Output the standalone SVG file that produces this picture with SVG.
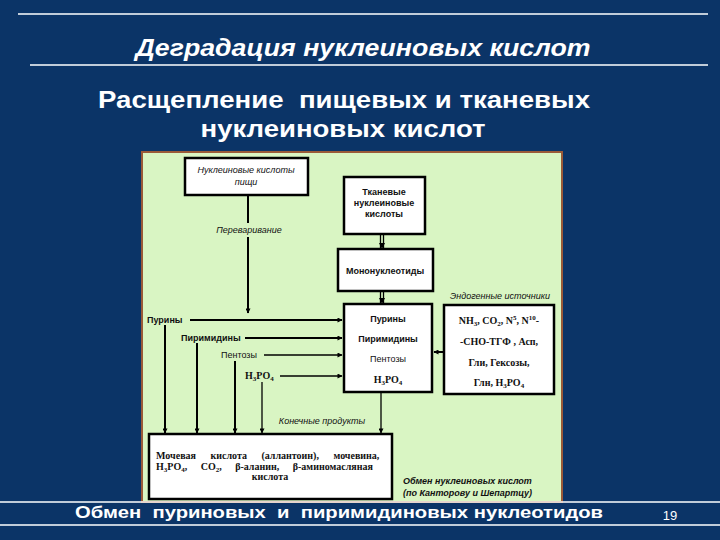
<svg xmlns="http://www.w3.org/2000/svg" width="720" height="540" viewBox="0 0 720 540">
<defs>
<marker id="ah" viewBox="0 0 10 10" refX="9" refY="5" markerWidth="7" markerHeight="5" orient="auto" markerUnits="userSpaceOnUse">
<path d="M0,0 L10,5 L0,10 z" fill="#000"/>
</marker>
</defs>
<style>
.bg{fill:#0b3467}
.wl{stroke:#ffffff;stroke-width:1.5}
.ttl{font-family:"Liberation Sans",Arial,sans-serif;font-weight:bold;fill:#ffffff}
.box{fill:#ffffff;stroke:#000;stroke-width:2.5}
.t{font-family:"Liberation Sans",Arial,sans-serif;font-size:9px;fill:#111}
.ti{font-family:"Liberation Sans",Arial,sans-serif;font-size:9px;font-style:italic;fill:#111}
.ts{font-family:"Liberation Serif","Times New Roman",serif;font-size:10px;font-weight:bold;fill:#111}
.ln{stroke:#000;stroke-width:1.3;fill:none}
.lnb{stroke:#000;stroke-width:2;fill:none}
</style>
<rect class="bg" x="0" y="0" width="720" height="540"/>
<line class="wl" x1="18" y1="14" x2="708" y2="14"/>
<line class="wl" x1="30" y1="65" x2="708" y2="65"/>
<text class="ttl" x="363" y="56" font-size="23" font-style="italic" text-anchor="middle" textLength="455" lengthAdjust="spacingAndGlyphs">Деградация нуклеиновых кислот</text>
<text class="ttl" x="344" y="108" font-size="24" text-anchor="middle" textLength="492" lengthAdjust="spacingAndGlyphs" xml:space="preserve">Расщепление  пищевых и тканевых</text>
<text class="ttl" x="343" y="137" font-size="24" text-anchor="middle" textLength="285" lengthAdjust="spacingAndGlyphs">нуклеиновых кислот</text>

<rect x="142" y="152" width="420" height="350" fill="#d9f5c3" stroke="#9a5a38" stroke-width="2"/>

<g id="food">
<rect class="box" x="185" y="158" width="123" height="37"/>
<text class="ti" x="246" y="173" text-anchor="middle">Нуклеиновые кислоты</text>
<text class="ti" x="246" y="185" text-anchor="middle">пищи</text>
</g>
<g id="tissue">
<rect class="box" x="344" y="177" width="81" height="57"/>
<text class="t" x="384" y="195" text-anchor="middle" font-weight="bold">Тканевые</text>
<text class="t" x="384" y="206" text-anchor="middle" font-weight="bold">нуклеиновые</text>
<text class="t" x="384" y="217" text-anchor="middle" font-weight="bold">кислоты</text>
</g>
<g id="mono">
<rect class="box" x="338" y="249" width="95" height="42"/>
<text class="t" x="385" y="274" text-anchor="middle" font-weight="bold">Мононуклеотиды</text>
</g>
<g id="mid">
<rect class="box" x="344" y="304" width="88" height="88"/>
<text class="t" x="388" y="322" text-anchor="middle" font-weight="bold">Пурины</text>
<text class="t" x="388" y="342" text-anchor="middle" font-weight="bold">Пиримидины</text>
<text class="t" x="388" y="362" text-anchor="middle">Пентозы</text>
<text class="ts" x="388" y="383" text-anchor="middle" font-weight="normal">H<tspan font-size="7" dy="2">3</tspan><tspan dy="-2">PO</tspan><tspan font-size="7" dy="2">4</tspan></text>
</g>
<g id="endo">
<text class="ti" x="500" y="299" text-anchor="middle" font-size="8">Эндогенные источники</text>
<rect class="box" x="444" y="305" width="110" height="89"/>
<text class="ts" x="499" y="324" text-anchor="middle">NH<tspan font-size="7" dy="2">3</tspan><tspan dy="-2">, CO</tspan><tspan font-size="7" dy="2">2</tspan><tspan dy="-2">, N</tspan><tspan font-size="7" dy="-4">5</tspan><tspan dy="4">, N</tspan><tspan font-size="7" dy="-4">10</tspan><tspan dy="4">-</tspan></text>
<text class="ts" x="499" y="345" text-anchor="middle">-CHO-ТГФ , Асп,</text>
<text class="ts" x="499" y="366" text-anchor="middle">Гли,  Гексозы,</text>
<text class="ts" x="499" y="386" text-anchor="middle">Глн,  H<tspan font-size="7" dy="2">3</tspan><tspan dy="-2">PO</tspan><tspan font-size="7" dy="2">4</tspan></text>
</g>
<g id="end">
<text class="ti" x="322" y="424" text-anchor="middle" font-size="8">Конечные продукты</text>
<rect class="box" x="149" y="434" width="243" height="65"/>
<text class="ts" x="156" y="459" word-spacing="12">Мочевая кислота (аллантоин), мочевина,</text>
<text class="ts" x="156" y="470" word-spacing="11">H<tspan font-size="7" dy="2">3</tspan><tspan dy="-2">PO</tspan><tspan font-size="7" dy="2">4</tspan><tspan dy="-2">, CO</tspan><tspan font-size="7" dy="2">2</tspan><tspan dy="-2">, β-аланин, β-аминомасляная</tspan></text>
<text class="ts" x="270" y="480" text-anchor="middle">кислота</text>
</g>
<g id="labels">
<text class="t" x="147" y="323" font-weight="bold">Пурины</text>
<text class="t" x="181" y="341" font-weight="bold">Пиримидины</text>
<text class="t" x="221" y="358">Пентозы</text>
<text class="ts" x="245" y="379" font-weight="normal">H<tspan font-size="7" dy="2">3</tspan><tspan dy="-2">PO</tspan><tspan font-size="7" dy="2">4</tspan></text>
<text class="ti" x="249" y="233" text-anchor="middle">Переваривание</text>
</g>
<g id="caption">
<text class="ti" x="403" y="484" font-size="9.5" font-weight="bold">Обмен нуклеиновых кислот</text>
<text class="ti" x="403" y="496" font-size="9.5" font-weight="bold">(по Канторову и Шепартцу)</text>
</g>

<g id="connectors">
<line class="lnb" x1="248" y1="195" x2="248" y2="223"/>
<line class="lnb" x1="248" y1="237" x2="248" y2="313" marker-end="url(#ah)"/>
<line class="ln" x1="380.5" y1="234" x2="380.5" y2="248"/>
<line class="ln" x1="383.5" y1="234" x2="383.5" y2="248"/>
<path d="M379,243 L385,243 L382,249 z" fill="#000"/>
<line class="ln" x1="380.5" y1="291" x2="380.5" y2="303"/>
<line class="ln" x1="383.5" y1="291" x2="383.5" y2="303"/>
<path d="M379,298 L385,298 L382,304 z" fill="#000"/>
<line class="lnb" x1="190" y1="320" x2="342" y2="320" marker-end="url(#ah)"/>
<line class="lnb" x1="245" y1="338" x2="342" y2="338" marker-end="url(#ah)"/>
<line class="ln" x1="264" y1="355" x2="342" y2="355" marker-end="url(#ah)"/>
<line class="ln" x1="280" y1="376" x2="342" y2="376" marker-end="url(#ah)"/>
<line class="lnb" x1="444" y1="352" x2="434" y2="352" marker-end="url(#ah)"/>
<line class="lnb" x1="165" y1="325" x2="165" y2="433" marker-end="url(#ah)"/>
<line class="lnb" x1="197" y1="343" x2="197" y2="433" marker-end="url(#ah)"/>
<line class="lnb" x1="235" y1="361" x2="235" y2="433" marker-end="url(#ah)"/>
<line class="ln" x1="262" y1="382" x2="262" y2="433" marker-end="url(#ah)"/>
<line class="ln" x1="381" y1="392" x2="381" y2="433" marker-end="url(#ah)"/>
</g>

<line class="wl" x1="0" y1="502" x2="720" y2="502"/>
<line class="wl" x1="0" y1="525" x2="720" y2="525"/>
<text class="ttl" x="339" y="518" font-size="16" text-anchor="middle" textLength="528" lengthAdjust="spacingAndGlyphs" xml:space="preserve">Обмен  пуриновых  и  пиримидиновых нуклеотидов</text>
<text x="670" y="520" font-family="Liberation Sans,Arial,sans-serif" font-size="13" fill="#ffffff" text-anchor="middle">19</text>
</svg>
